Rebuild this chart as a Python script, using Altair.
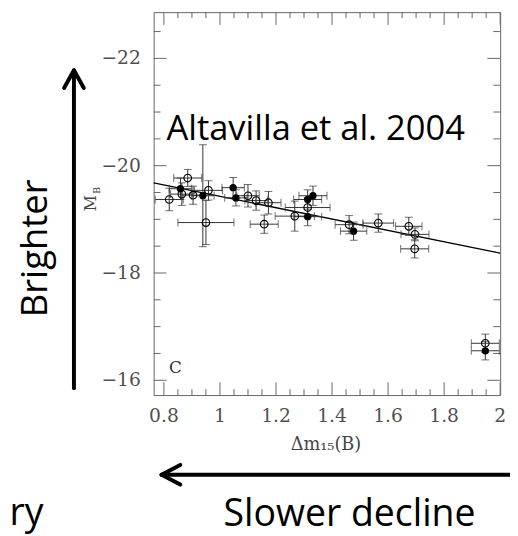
import altair as alt
import pandas as pd

# ---- data ----
open_x = [0.819, 0.885, 0.864, 0.904, 0.959, 0.950, 1.100, 1.129, 1.173, 1.158,
          1.267, 1.313, 1.461, 1.565, 1.674, 1.696, 1.695, 1.947]
open_y = [-19.37, -19.77, -19.47, -19.45, -19.54, -18.94, -19.44, -19.35, -19.31, -18.91,
          -19.06, -19.22, -18.90, -18.93, -18.87, -18.72, -18.45, -16.69]
open_xerr = [0.05, 0.05, 0.04, 0.04, 0.05, 0.10, 0.04, 0.04, 0.045, 0.05,
             0.07, 0.08, 0.05, 0.055, 0.047, 0.05, 0.05, 0.05]
open_yerr = [0.21, 0.16, 0.21, 0.17, 0.18, 0.41, 0.21, 0.18, 0.21, 0.17,
             0.28, 0.18, 0.17, 0.17, 0.17, 0.12, 0.17, 0.17]

filled_x = [0.859, 0.939, 1.047, 1.057, 1.313, 1.332, 1.313, 1.477, 1.947]
filled_y = [-19.57, -19.44, -19.59, -19.40, -19.37, -19.44, -19.05, -18.78, -16.55]
filled_xerr = [0.04, 0.04, 0.04, 0.04, 0.05, 0.05, 0.05, 0.047, 0.05]
filled_yerr = [0.20, 0.95, 0.19, 0.15, 0.18, 0.18, 0.17, 0.17, 0.17]

fit_x = [0.7635, 2.0]
fit_y = [-19.68, -18.37]

x_major = [0.8, 1.0, 1.2, 1.4, 1.6, 1.8, 2.0]
x_minor = [0.85, 0.9, 0.95, 1.05, 1.1, 1.15, 1.25, 1.3, 1.35, 1.45, 1.5, 1.55,
           1.65, 1.7, 1.75, 1.85, 1.9, 1.95]
y_major = [-22, -20, -18, -16]
y_minor = [-22.5, -21.5, -21, -20.5, -19.5, -19, -18.5, -17.5, -17, -16.5]

x_domain = [0.7635, 2.0]
y_domain = [-22.862, -15.725]

# ---- build tables ----
pts = pd.concat([
    pd.DataFrame({"x": open_x, "y": open_y, "xerr": open_xerr, "yerr": open_yerr, "kind": "open"}),
    pd.DataFrame({"x": filled_x, "y": filled_y, "xerr": filled_xerr, "yerr": filled_yerr, "kind": "filled"}),
], ignore_index=True)
pts["xlo"] = pts["x"] - pts["xerr"]
pts["xhi"] = pts["x"] + pts["xerr"]
pts["ylo"] = pts["y"] - pts["yerr"]
pts["yhi"] = pts["y"] + pts["yerr"]
fit = pd.DataFrame({"x": fit_x, "y": fit_y})
one = pd.DataFrame({"k": [0]})

W, H = 352, 389
AX = "#666666"
EB = "#333333"
LAB = "#505050"
SERIF = "DejaVu Serif"
SANS = "Open Sans"

xs = alt.Scale(domain=x_domain, nice=False, zero=False)
ys = alt.Scale(domain=y_domain, reverse=True, nice=False, zero=False)

base = alt.Chart(pts)

fit_line = alt.Chart(fit).mark_line(color="black", strokeWidth=1.4).encode(
    x=alt.X("x:Q", scale=xs, axis=None),
    y=alt.Y("y:Q", scale=ys, axis=None),
)

vbars = base.mark_rule(color=EB, strokeWidth=1).encode(
    x=alt.X("x:Q", scale=xs, axis=None),
    y=alt.Y("ylo:Q", scale=ys, axis=None), y2="yhi:Q")
hbars = base.mark_rule(color=EB, strokeWidth=1).encode(
    x=alt.X("xlo:Q", scale=xs, axis=None), x2="xhi:Q",
    y=alt.Y("y:Q", scale=ys, axis=None))
cap_lo = base.mark_tick(color=EB, orient="horizontal", size=8, thickness=1).encode(
    x=alt.X("x:Q", scale=xs, axis=None), y=alt.Y("ylo:Q", scale=ys, axis=None))
cap_hi = base.mark_tick(color=EB, orient="horizontal", size=8, thickness=1).encode(
    x=alt.X("x:Q", scale=xs, axis=None), y=alt.Y("yhi:Q", scale=ys, axis=None))
cap_l = base.mark_tick(color=EB, orient="vertical", size=8, thickness=1).encode(
    x=alt.X("xlo:Q", scale=xs, axis=None), y=alt.Y("y:Q", scale=ys, axis=None))
cap_r = base.mark_tick(color=EB, orient="vertical", size=8, thickness=1).encode(
    x=alt.X("xhi:Q", scale=xs, axis=None), y=alt.Y("y:Q", scale=ys, axis=None))

open_pts = base.transform_filter(alt.datum.kind == "open").mark_point(
    shape="circle", filled=False, size=60, strokeWidth=1.1, color="black", opacity=1).encode(
    x=alt.X("x:Q", scale=xs, axis=None), y=alt.Y("y:Q", scale=ys, axis=None))
filled_pts = base.transform_filter(alt.datum.kind == "filled").mark_circle(
    size=55, color="black", opacity=1).encode(
    x=alt.X("x:Q", scale=xs, axis=None), y=alt.Y("y:Q", scale=ys, axis=None))


def xticks(vals, length):
    d = pd.DataFrame({"v": vals})
    b = alt.Chart(d).mark_rule(color=AX, strokeWidth=1).encode(
        x=alt.X("v:Q", scale=xs, axis=None), y=alt.value(H), y2=alt.value(H - length))
    t = alt.Chart(d).mark_rule(color=AX, strokeWidth=1).encode(
        x=alt.X("v:Q", scale=xs, axis=None), y=alt.value(0), y2=alt.value(length))
    return [b, t]


def yticks(vals, length):
    d = pd.DataFrame({"v": vals})
    l = alt.Chart(d).mark_rule(color=AX, strokeWidth=1).encode(
        y=alt.Y("v:Q", scale=ys, axis=None), x=alt.value(0), x2=alt.value(length))
    r = alt.Chart(d).mark_rule(color=AX, strokeWidth=1).encode(
        y=alt.Y("v:Q", scale=ys, axis=None), x=alt.value(W), x2=alt.value(W - length))
    return [l, r]


tick_layers = xticks(x_major, 13) + xticks(x_minor, 6) + yticks(y_major, 13) + yticks(y_minor, 7)

# tick labels drawn through the scales
x_labels = alt.Chart(pd.DataFrame({"v": x_major})).transform_calculate(
    lab="format(datum.v, '~g')").mark_text(
    font=SERIF, fontSize=19, color=LAB, align="center", baseline="middle").encode(
    x=alt.X("v:Q", scale=xs, axis=None), y=alt.value(H + 21), text="lab:N")
y_labels = alt.Chart(pd.DataFrame({"v": y_major})).transform_calculate(
    lab="format(datum.v, '~g')").mark_text(
    font=SERIF, fontSize=19, color=LAB, align="right", baseline="middle").encode(
    y=alt.Y("v:Q", scale=ys, axis=None), x=alt.value(-13), text="lab:N")


def text(t, x, y, size, font, color="black", align="center", baseline="middle", angle=0):
    kw = dict(text=t, fontSize=size, font=font, color=color, align=align, baseline=baseline)
    if angle:
        kw["angle"] = angle
    return alt.Chart(one).mark_text(**kw).encode(x=alt.value(x), y=alt.value(y))


def seg(x1, y1, x2, y2, w=4):
    return alt.Chart(one).mark_rule(color="black", strokeWidth=w, strokeCap="round").encode(
        x=alt.value(x1), y=alt.value(y1), x2=alt.value(x2), y2=alt.value(y2))


annotations = [
    text("C", 22, 362, 17, SERIF, color="#333333"),
    text("Altavilla et al. 2004", 13, 130, 35, SANS, align="left", baseline="alphabetic"),
    text("Brighter", -119, 240, 37, SANS, angle=270),
    text("M", -64, 194, 16, SERIF, color="#444444", angle=270),
    text("B", -58, 181, 10, SERIF, color="#444444", angle=270),
    text("Δm₁₅(B)", 175, 440, 18, SERIF, color="#444444"),
    text("Slower decline", 199, 522, 38, SANS, baseline="alphabetic"),
    text("ry", -112, 521, 38, SANS, align="right", baseline="alphabetic"),
    seg(-81, 382, -81, 60),
    seg(-91, 77, -81, 59),
    seg(-71, 77, -81, 59),
    seg(8, 470, 362, 470),
    seg(27, 460, 8, 470),
    seg(27, 480, 8, 470),
]

chart = alt.layer(
    fit_line, *tick_layers, vbars, hbars, cap_lo, cap_hi, cap_l, cap_r,
    open_pts, filled_pts, x_labels, y_labels, *annotations
).properties(
    width=W, height=H,
    autosize=alt.AutoSizeParams(type="none"),
    padding={"left": 148, "top": 0, "right": 10, "bottom": 139},
).configure_view(stroke=AX, strokeWidth=1)

chart.save("out.html", embed_options={"renderer": "svg", "actions": False})
